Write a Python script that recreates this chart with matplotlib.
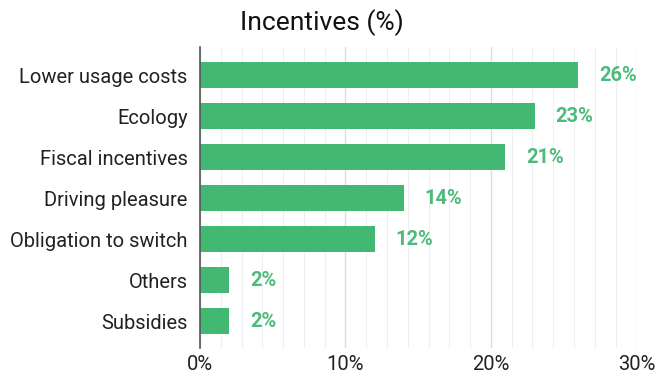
import matplotlib
matplotlib.use("Agg")
import matplotlib.pyplot as plt
from matplotlib.ticker import FixedLocator
import numpy as np

categories = ["Lower usage costs", "Ecology", "Fiscal incentives", "Driving pleasure",
              "Obligation to switch", "Others", "Subsidies"]
values = [26, 23, 21, 14, 12, 2, 2]
value_labels = ["26%", "23%", "21%", "14%", "12%", "2%", "2%"]
xticks = [0, 10, 20, 30]
xtick_labels = ["0%", "10%", "20%", "30%"]
title = "Incentives (%)"

plt.rcParams['font.family'] = ['Roboto', 'DejaVu Sans']

fig = plt.figure(figsize=(6.56, 3.8), dpi=100)
ax = fig.add_axes([0.305, 0.084, 0.665, 0.792])

bar_color = "#43b872"
label_color = "#4cbb7c"
y = np.arange(len(categories))
ax.barh(y, values, height=0.64, color=bar_color, zorder=3)
for yi, v, lab in zip(y, values, value_labels):
    ax.text(v + 1.45, yi, lab, va="center", ha="left", fontsize=14.5,
            fontweight="bold", color=label_color, zorder=4)

ax.set_ylim(len(categories) - 1 + 0.66, -0.68)
ax.set_xlim(0, 30)
ax.set_yticks(y)
ax.set_yticklabels(categories, fontsize=14.5, color="#222222")
ax.set_xticks(xticks)
ax.set_xticklabels(xtick_labels, fontsize=14.5, color="#222222")
ax.xaxis.set_minor_locator(FixedLocator([i * 10 / 7 for i in range(22)]))
ax.tick_params(axis="y", length=0, pad=9)
ax.tick_params(axis="x", length=0, pad=5)
ax.tick_params(axis="x", which="minor", length=0)
ax.grid(axis="x", which="major", color="#dddddd", linewidth=1.0, zorder=0)
ax.grid(axis="x", which="minor", color="#eeeeee", linewidth=0.8, zorder=0)
for s in ["top", "right", "bottom"]:
    ax.spines[s].set_visible(False)
ax.spines["left"].set_color("#555555")
ax.spines["left"].set_linewidth(1.2)
ax.spines["left"].set_zorder(5)

fig.text(0.49, 0.94, title, ha="center", va="center", fontsize=19, color="#111111")

fig.savefig("out.png", dpi=100, facecolor="white")
